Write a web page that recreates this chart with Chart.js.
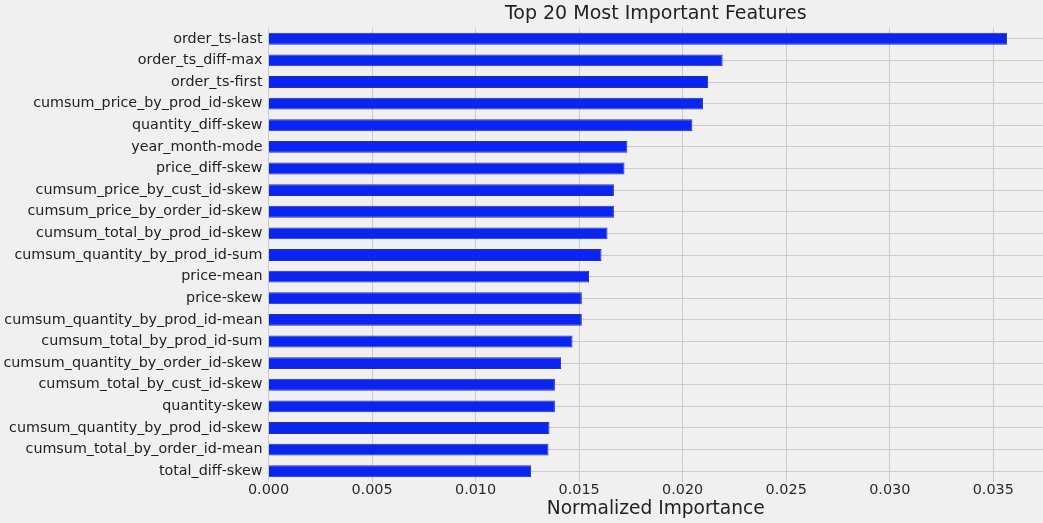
<!DOCTYPE html>
<html>
<head>
<meta charset="utf-8">
<script src="https://cdn.jsdelivr.net/npm/chart.js@4"></script>
<style>
    html, body { margin: 0; padding: 0; background: #f0f0f0; }
    #wrap { width: 1043px; height: 523px; position: relative; }
</style>
</head>
<body>
<div id="wrap"><canvas id="importance-chart"></canvas></div>
<script>
// Feature names, top to bottom
const features = [
    'order_ts-last',
    'order_ts_diff-max',
    'order_ts-first',
    'cumsum_price_by_prod_id-skew',
    'quantity_diff-skew',
    'year_month-mode',
    'price_diff-skew',
    'cumsum_price_by_cust_id-skew',
    'cumsum_price_by_order_id-skew',
    'cumsum_total_by_prod_id-skew',
    'cumsum_quantity_by_prod_id-sum',
    'price-mean',
    'price-skew',
    'cumsum_quantity_by_prod_id-mean',
    'cumsum_total_by_prod_id-sum',
    'cumsum_quantity_by_order_id-skew',
    'cumsum_total_by_cust_id-skew',
    'quantity-skew',
    'cumsum_quantity_by_prod_id-skew',
    'cumsum_total_by_order_id-mean',
    'total_diff-skew'
];

// Normalized importance
const importance = [
    0.03566, 0.02193, 0.02123, 0.02098, 0.02047,
    0.01733, 0.01719, 0.01668, 0.01668, 0.01637,
    0.01608, 0.01548, 0.01513, 0.01513, 0.01468,
    0.01413, 0.01383, 0.01383, 0.01357, 0.01352,
    0.01268
];

const xTicks = [0, 0.005, 0.010, 0.015, 0.020, 0.025, 0.030, 0.035];

const chartTitle = 'Top 20 Most Important Features';
const xAxisTitle = 'Normalized Importance';

// Title centred over the plot area, like matplotlib does
const areaTitle = {
    id: 'areaTitle',
    afterDraw(chart) {
        const { ctx, chartArea } = chart;
        ctx.save();
        ctx.font = '19px "DejaVu Sans"';
        ctx.fillStyle = '#222';
        ctx.textAlign = 'center';
        ctx.textBaseline = 'middle';
        ctx.fillText(chartTitle, (chartArea.left + chartArea.right) / 2, 14.5);
        ctx.restore();
    }
};

const bgFill = {
    id: 'bgFill',
    beforeDraw(chart) {
        const { ctx, width, height } = chart;
        ctx.save();
        ctx.fillStyle = '#f0f0f0';
        ctx.fillRect(0, 0, width, height);
        ctx.restore();
    }
};

new Chart(document.getElementById('importance-chart'), {
    type: 'bar',
    data: {
        labels: features,
        datasets: [{
            data: importance,
            backgroundColor: '#0a24f2',
            borderColor: '#2b2f9e',
            borderWidth: 1,
            barPercentage: 0.55,
            categoryPercentage: 1.0
        }]
    },
    options: {
        indexAxis: 'y',
        responsive: true,
        maintainAspectRatio: false,
        animation: false,
        layout: {
            padding: { top: 28, right: 0, bottom: 0, left: 0 }
        },
        plugins: {
            legend: { display: false },
            tooltip: { enabled: false }
        },
        scales: {
            x: {
                min: 0,
                max: 0.0374,
                afterBuildTicks(scale) {
                    scale.ticks = xTicks.map(v => ({ value: v }));
                },
                ticks: {
                    color: '#2a2a2a',
                    font: { family: 'DejaVu Sans', size: 14.4 },
                    padding: 0,
                    callback: v => v.toFixed(3)
                },
                grid: {
                    color: '#cbcbcb',
                    lineWidth: 1,
                    drawTicks: false
                },
                border: { display: false },
                title: {
                    display: true,
                    text: xAxisTitle,
                    color: '#222',
                    font: { family: 'DejaVu Sans', size: 18.6 },
                    padding: { top: 0, bottom: 3 }
                },
                afterFit(scale) {
                    scale.height = 41;
                }
            },
            y: {
                ticks: {
                    color: '#222',
                    font: { family: 'DejaVu Sans', size: 14.3 },
                    padding: 6,
                    autoSkip: false
                },
                grid: {
                    color: '#cbcbcb',
                    lineWidth: 1,
                    offset: false,
                    drawTicks: false
                },
                border: { display: false },
                afterFit(scale) {
                    scale.width = 268.5;
                }
            }
        }
    },
    plugins: [bgFill, areaTitle]
});
</script>
</body>
</html>
